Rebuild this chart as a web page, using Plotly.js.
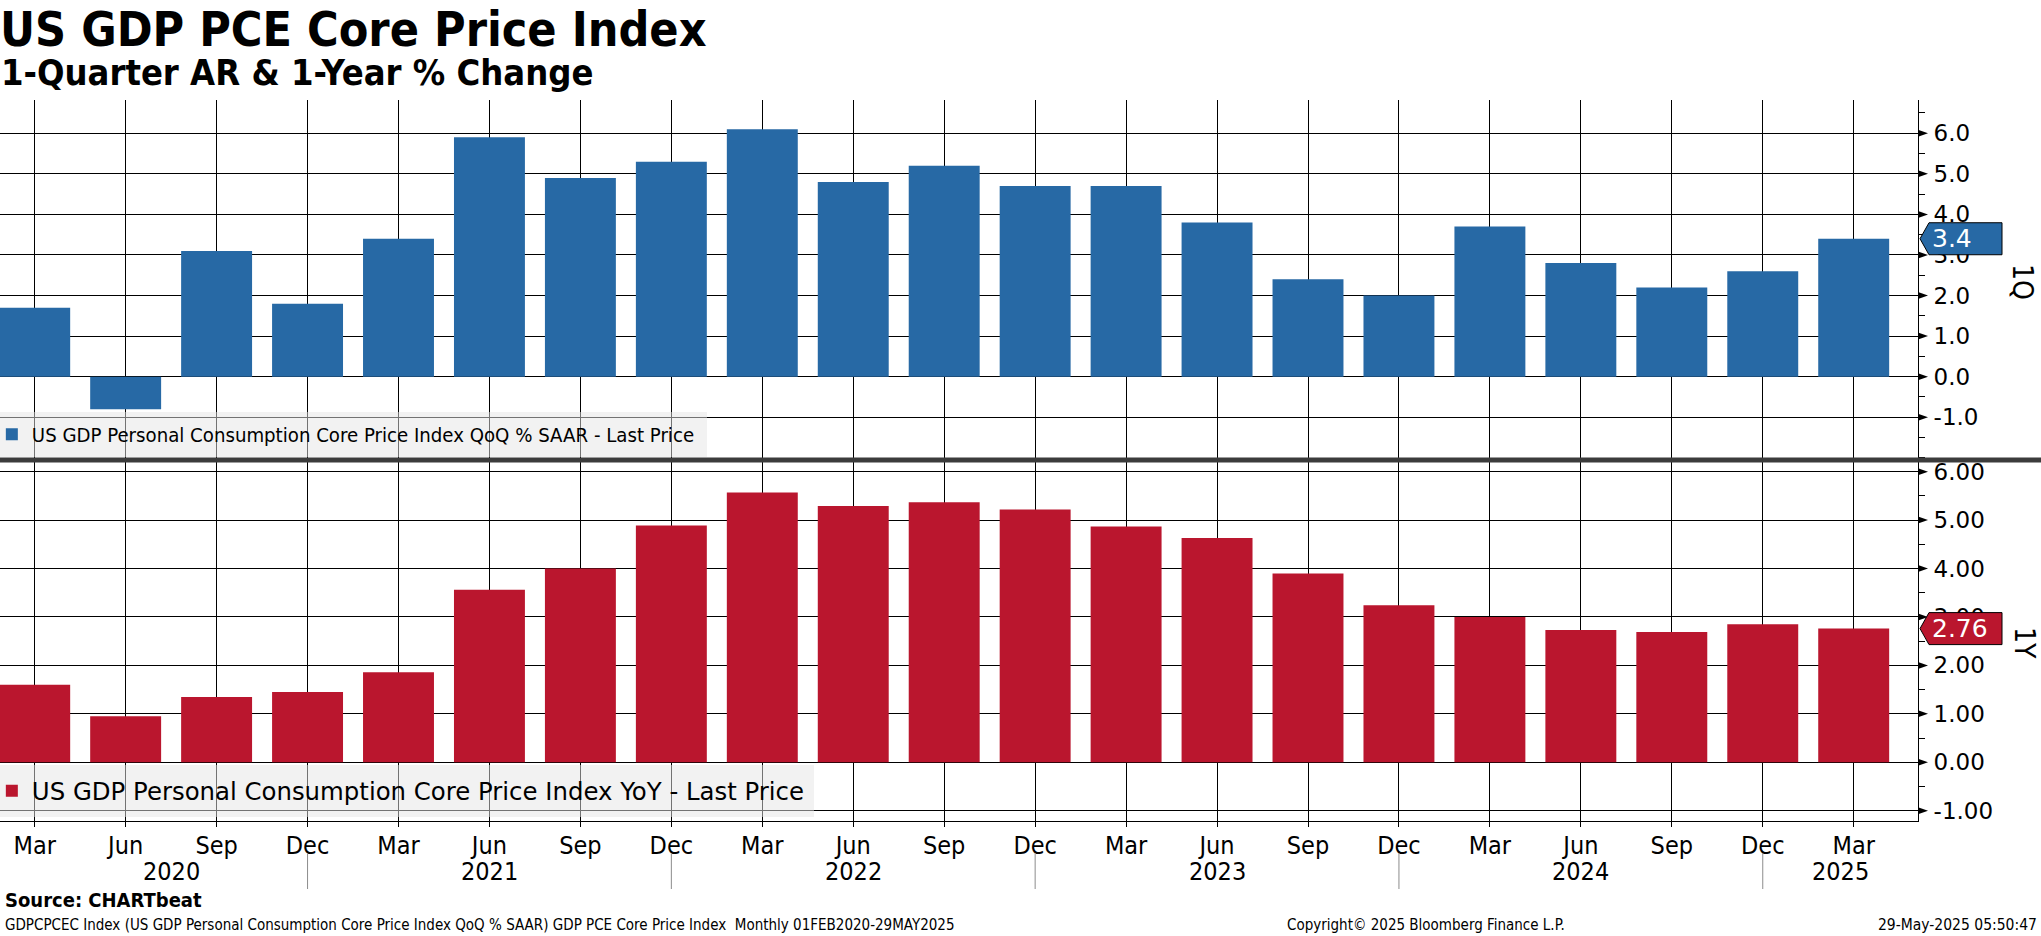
<!DOCTYPE html>
<html><head><meta charset="utf-8">
<script src="https://cdn.plot.ly/plotly-3.0.1.min.js"></script>
<style>html,body{margin:0;padding:0;background:#fff;overflow:hidden}#chart{width:2041px;height:936px}</style>
</head><body><div id="chart"></div>
<script>
// ---- data ----
const quarterLabels = ['Mar','Jun','Sep','Dec','Mar','Jun','Sep','Dec','Mar','Jun','Sep','Dec','Mar','Jun','Sep','Dec','Mar','Jun','Sep','Dec','Mar'];
const quarterYears  = [2020,2020,2020,2020,2021,2021,2021,2021,2022,2022,2022,2022,2023,2023,2023,2023,2024,2024,2024,2024,2025];
const qoqSaar = [1.7,-0.8,3.1,1.8,3.4,5.9,4.9,5.3,6.1,4.8,5.2,4.7,4.7,3.8,2.4,2.0,3.7,2.8,2.2,2.6,3.4];
const yoyChange = [1.60,0.95,1.35,1.45,1.86,3.56,4.00,4.89,5.57,5.29,5.37,5.22,4.87,4.63,3.90,3.24,3.00,2.73,2.69,2.85,2.76];
const yearLabels = ['2020','2021','2022','2023','2024','2025'];
const topTicks = [-1,0,1,2,3,4,5,6];
const bottomTicks = [-1,0,1,2,3,4,5,6];
const qoqName = 'US GDP Personal Consumption Core Price Index QoQ % SAAR - Last Price';
const yoyName = 'US GDP Personal Consumption Core Price Index YoY - Last Price';

// ---- layout constants ----
const W = 2041, H = 936;
const BLUE = '#2769a5', RED = '#ba162e';
const NARROW = '"DejaVu Sans Condensed", "DejaVu Sans", sans-serif';
const REG = '"DejaVu Sans", sans-serif';
const plotRightPx = 1918;
const xDomain = [0, plotRightPx / W];
const xIdx = quarterLabels.map((_, i) => i);
const xRange = [-0.3815, 20.707];
const topPx = [100, 460], botPx = [461, 821];
const topDomain = [1 - topPx[1] / H, 1 - topPx[0] / H];
const botDomain = [1 - botPx[1] / H, 1 - botPx[0] / H];
const topRange = [-2.054, 6.82];
const botRange = [-1.212, 6.22];

const py = v => 1 - v / H;               // pixel row -> paper
const pxx = v => v / W;                  // pixel col -> paper
function valPaper(v, range, dom) { return dom[0] + (v - range[0]) / (range[1] - range[0]) * (dom[1] - dom[0]); }
function dataToPx(v, range, dom) { return (1 - valPaper(v, range, dom)) * H; }

const traces = [
  { type: 'bar', x: xIdx, y: qoqSaar, xaxis: 'x', yaxis: 'y', name: qoqName,
    marker: { color: BLUE, line: { width: 0 } }, width: 0.78, legend: 'legend', hoverinfo: 'y' },
  { type: 'bar', x: xIdx, y: yoyChange, xaxis: 'x', yaxis: 'y2', name: yoyName,
    marker: { color: RED, line: { width: 0 } }, width: 0.78, legend: 'legend2', hoverinfo: 'y' }
];

const shapes = [];
const annotations = [];

// legend backgrounds
shapes.push({ type: 'rect', xref: 'paper', yref: 'paper', x0: 0, x1: pxx(707), y0: py(457), y1: py(412),
  fillcolor: 'rgba(229,229,229,0.5)', line: { width: 0 }, layer: 'above' });
shapes.push({ type: 'rect', xref: 'paper', yref: 'paper', x0: 0, x1: pxx(814), y0: py(817), y1: py(765),
  fillcolor: 'rgba(229,229,229,0.5)', line: { width: 0 }, layer: 'above' });

// divider
shapes.push({ type: 'rect', xref: 'paper', yref: 'paper', x0: 0, x1: 1, y0: py(462.5), y1: py(457.5),
  fillcolor: '#3c3c3c', line: { width: 0 }, layer: 'above' });

// major tick triangles on right axis
function tickTriangles(ticks, range, dom) {
  ticks.forEach(t => {
    const yc = dataToPx(t, range, dom);
    shapes.push({ type: 'path', xref: 'paper', yref: 'paper', layer: 'above',
      path: `M ${pxx(plotRightPx)} ${py(yc - 3.5)} L ${pxx(plotRightPx + 10)} ${py(yc)} L ${pxx(plotRightPx)} ${py(yc + 3.5)} Z`,
      fillcolor: '#000', line: { width: 0 } });
  });
}
tickTriangles(topTicks, topRange, topDomain);
tickTriangles(bottomTicks, botRange, botDomain);

// last value tags
function lastTag(val, txt, color, range, dom) {
  const yc = dataToPx(val, range, dom);
  const tip = plotRightPx + 2, bl = plotRightPx + 11, br = 2002, hh = 16;
  shapes.push({ type: 'path', xref: 'paper', yref: 'paper', layer: 'above',
    path: `M ${pxx(tip)} ${py(yc)} L ${pxx(bl)} ${py(yc - hh)} L ${pxx(br)} ${py(yc - hh)} L ${pxx(br)} ${py(yc + hh)} L ${pxx(bl)} ${py(yc + hh)} Z`,
    fillcolor: color, line: { color: '#000', width: 1 } });
  annotations.push({ xref: 'paper', yref: 'paper', x: pxx(bl + 2), y: py(yc), text: txt, showarrow: false,
    xanchor: 'left', yanchor: 'middle', borderpad: 0, font: { family: REG, size: 25, color: '#fff' } });
}
lastTag(qoqSaar[qoqSaar.length - 1], qoqSaar[qoqSaar.length - 1].toFixed(1), BLUE, topRange, topDomain);
lastTag(yoyChange[yoyChange.length - 1], yoyChange[yoyChange.length - 1].toFixed(2), RED, botRange, botDomain);

// year separators at December positions & year labels
const decIdx = xIdx.filter(i => quarterLabels[i] === 'Dec');
decIdx.forEach(i => {
  shapes.push({ type: 'line', xref: 'x', yref: 'paper', x0: i, x1: i, y0: py(889), y1: py(853),
    line: { color: '#8c8c8c', width: 1 } });
});
yearLabels.forEach(yr => {
  const idx = xIdx.filter(i => String(quarterYears[i]) === yr);
  const first = idx[0], last = idx[idx.length - 1];
  const start = first === 0 ? 0 : first - 1;
  const end = quarterLabels[last] === 'Dec' ? last : xRange[1];
  annotations.push({ xref: 'x', yref: 'paper', x: (start + end) / 2, y: py(871), text: yr, showarrow: false,
    xanchor: 'center', yanchor: 'middle', font: { family: NARROW, size: 25, color: '#000' } });
});

// texts
annotations.push({ xref: 'paper', yref: 'paper', x: 0, y: py(73), xanchor: 'left', yanchor: 'middle', showarrow: false,
  borderpad: 0, text: '<b>1-Quarter AR &amp; 1-Year % Change</b>', font: { family: NARROW, size: 36, color: '#000' } });
annotations.push({ xref: 'paper', yref: 'paper', x: pxx(2023), y: py(282), textangle: 90, showarrow: false,
  xanchor: 'center', yanchor: 'middle', borderpad: 0, text: '1Q', font: { family: NARROW, size: 28, color: '#000' } });
annotations.push({ xref: 'paper', yref: 'paper', x: pxx(2025), y: py(643), textangle: 90, showarrow: false,
  xanchor: 'center', yanchor: 'middle', borderpad: 0, text: '1Y', font: { family: NARROW, size: 28, color: '#000' } });
annotations.push({ xref: 'paper', yref: 'paper', x: pxx(3), y: py(900), xanchor: 'left', yanchor: 'middle', showarrow: false,
  text: '<b>Source: CHARTbeat</b>', font: { family: NARROW, size: 20, color: '#000' } });
annotations.push({ xref: 'paper', yref: 'paper', x: pxx(3), y: py(925), xanchor: 'left', yanchor: 'middle', showarrow: false,
  text: 'GDPCPCEC Index (US GDP Personal Consumption Core Price Index QoQ % SAAR) GDP PCE Core Price Index&nbsp;&nbsp;Monthly 01FEB2020-29MAY2025',
  font: { family: NARROW, size: 15, color: '#000' } });
annotations.push({ xref: 'paper', yref: 'paper', x: pxx(1285), y: py(925), xanchor: 'left', yanchor: 'middle', showarrow: false,
  text: 'Copyright© 2025 Bloomberg Finance L.P.', font: { family: NARROW, size: 15, color: '#000' } });
annotations.push({ xref: 'paper', yref: 'paper', x: pxx(2039), y: py(925), xanchor: 'right', yanchor: 'middle', showarrow: false,
  text: '29-May-2025 05:50:47', font: { family: NARROW, size: 15.5, color: '#000' } });

const yCommon = {
  side: 'right', anchor: 'x', showgrid: true, gridcolor: '#000', gridwidth: 1, zeroline: false,
  showline: true, linecolor: '#000', linewidth: 1, ticks: 'outside', ticklen: 6, tickcolor: '#000', tickwidth: 1,
  tickmode: 'array', ticklabelstandoff: 4,
  tickfont: { family: REG, size: 23, color: '#000' }, fixedrange: true,
  minor: { tickmode: 'linear', tick0: 0, dtick: 0.5, ticks: 'outside', ticklen: 6, tickcolor: '#000', showgrid: false }
};

const layout = {
  width: W, height: H, margin: { l: 0, r: 0, t: 0, b: 0, autoexpand: false },
  paper_bgcolor: '#fff', plot_bgcolor: '#fff', bargap: 0.22,
  title: { text: '<b>US GDP PCE Core Price Index</b>', x: 0, xanchor: 'left', xref: 'paper', yref: 'container',
    y: py(29), yanchor: 'middle', font: { family: NARROW, size: 48, color: '#000' } },
  xaxis: { domain: xDomain, range: xRange, anchor: 'y2', tickmode: 'array', tickvals: xIdx, ticktext: quarterLabels,
    showgrid: true, gridcolor: '#000', gridwidth: 1, zeroline: false, showline: true, linecolor: '#000', linewidth: 1,
    ticks: 'outside', ticklen: 5, tickcolor: '#000', ticklabelstandoff: -3,
    tickfont: { family: NARROW, size: 25, color: '#000' }, fixedrange: true },
  yaxis: Object.assign({}, yCommon, { domain: topDomain, range: topRange, tickvals: topTicks,
    ticktext: topTicks.map(t => t.toFixed(1)) }),
  yaxis2: Object.assign({}, yCommon, { domain: botDomain, range: botRange, tickvals: bottomTicks,
    ticktext: bottomTicks.map(t => t.toFixed(2)) }),
  showlegend: true,
  legend: { x: -0.004, xanchor: 'left', y: py(434.5), yanchor: 'middle', bgcolor: 'rgba(0,0,0,0)', borderwidth: 0,
    font: { family: NARROW, size: 20.2, color: '#000' } },
  legend2: { x: -0.004, xanchor: 'left', y: py(791), yanchor: 'middle', bgcolor: 'rgba(0,0,0,0)', borderwidth: 0,
    font: { family: REG, size: 24.4, color: '#000' } },
  shapes: shapes, annotations: annotations
};

Plotly.newPlot('chart', traces, layout, { displayModeBar: false, staticPlot: true });
</script></body></html>
